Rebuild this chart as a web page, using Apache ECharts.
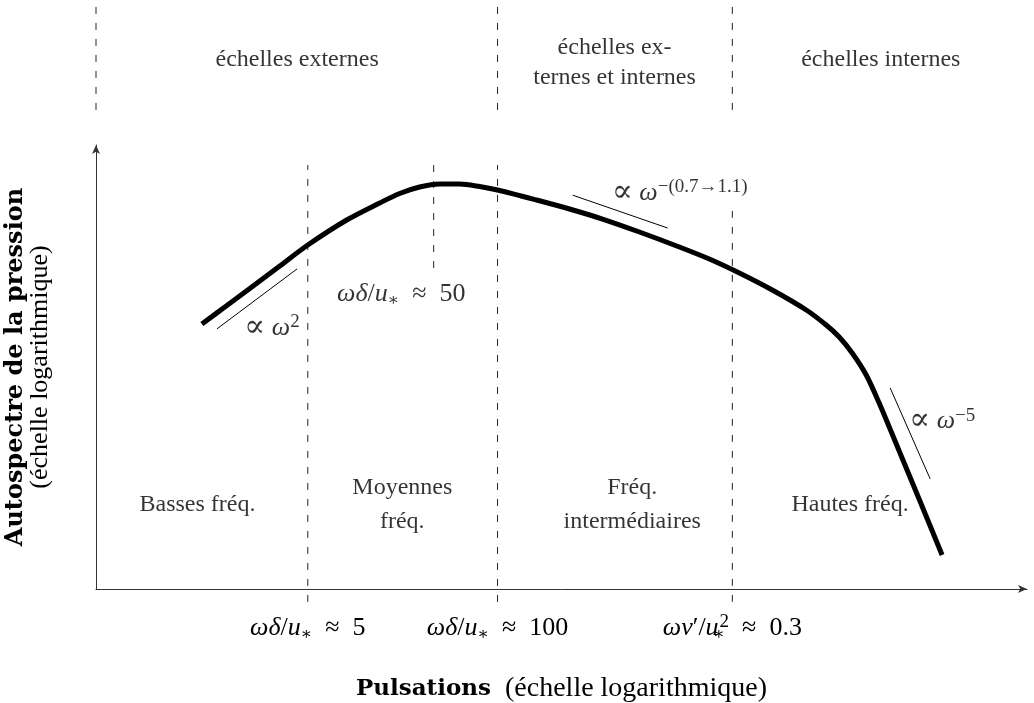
<!DOCTYPE html>
<html><head><meta charset="utf-8">
<script src="https://cdn.jsdelivr.net/npm/echarts@6/dist/echarts.min.js"></script>
<style>html,body{margin:0;padding:0;background:#fff}#c{width:1034px;height:703px}</style>
</head><body><div id="c"></div>
<script>
// Schematic pressure spectrum: x = log pulsation, y = log autospectrum (arbitrary units 0-100)
const curveX = [11.37, 13.84, 16.52, 19.74, 22.75, 26.93, 30.47, 32.62, 34.76, 36.91, 39.06, 41.20, 43.13, 47.32, 50.86, 54.40, 58.37, 62.66, 65.88, 69.10, 72.64, 76.29, 78.43, 79.83, 81.22, 82.73, 84.12, 86.27, 88.41, 90.88];
const curveY = [59.68, 63.51, 67.68, 72.75, 77.48, 83.11, 86.94, 89.08, 90.54, 91.22, 91.22, 90.65, 89.86, 87.61, 85.59, 83.33, 80.41, 77.03, 74.32, 71.17, 67.34, 62.84, 59.46, 56.76, 53.15, 48.20, 41.89, 31.08, 20.27, 7.66];

// slope guide lines  [x0, y0, x1, y1]
const slopeLow = [13.0, 58.6, 21.6, 72.1];      // ∝ ω²
const slopeMid = [51.2, 88.7, 61.4, 81.3];      // ∝ ω^-(0.7→1.1)
const slopeHigh = [85.3, 45.3, 89.6, 24.8];     // ∝ ω^-5

// frequency-range boundaries
const boundaryX = [22.75, 43.13, 68.35];
const boundaryTopY = [95.5, 95.5, 87.0];
const boundaryBottomY = -2.9;
const peakX = 36.27;
const peakDashY = [72.3, 95.5];
// scale-range dividers (above the plot)
const scaleDividerX = [0, 43.13, 68.35];
const scaleDividerY = [107.9, 132.7];

const tickLabels = [
  '{m|ωδ}{r|/}{m|u}{sub|∗}{r|  ≈  5}',
  '{m|ωδ}{r|/}{m|u}{sub|∗}{r|  ≈  100}',
  '{m|ων}{r|′/}{m|u}{subz|∗}{sup|2}{r|  ≈  0.3}'
];
const regionLabels = ['Basses fréq.', 'Moyennes\nfréq.', 'Fréq.\nintermédiaires', 'Hautes fréq.'];
const regionX = [10.9, 32.9, 57.6, 81.0];
const regionY = [18.9, 18.9, 18.9, 18.9];
const scaleLabels = ['échelles externes', 'échelles ex-\nternes et internes', 'échelles internes'];
const scaleLabelX = [21.6, 55.7, 84.3];
const scaleLabelY = [119.1, 118.6, 119.1];
const annotTexts = [
  '{m|ωδ}{r|/}{m|u}{sub|∗}{r|  ≈  50}',
  '{p|∝}{r| }{m|ω}{sup|2}',
  '{p|∝}{r| }{m|ω}{sup|−(0.7→1.1)}',
  '{p|∝}{r| }{m|ω}{sup|−5}'
];
const annotX = [32.8, 18.9, 62.7, 90.9];
const annotY = [66.4, 58.8, 89.2, 37.8];

const FONT = "'Liberation Serif', 'DejaVu Serif', serif";
const BOLD_FONT = "'DejaVu Serif', 'Liberation Serif', serif";
const mathRich = {
  m: {fontFamily: FONT, fontStyle: 'italic', fontSize: 26, lineHeight: 30, color: '#000'},
  r: {fontFamily: FONT, fontSize: 26, lineHeight: 30, color: '#000'},
  p: {fontFamily: "'DejaVu Serif', serif", fontSize: 31, lineHeight: 30, color: '#000'},
  sub: {fontFamily: FONT, fontSize: 17, lineHeight: 8, verticalAlign: 'bottom', color: '#000'},
  subz: {fontFamily: FONT, fontSize: 17, lineHeight: 8, width: 1, verticalAlign: 'bottom', color: '#000'},
  sup: {fontFamily: FONT, fontSize: 19, lineHeight: 22, verticalAlign: 'top', color: '#000'}
};

function seg(xs, y0, y1) {
  const out = [];
  xs.forEach((x, i) => {
    const a = Array.isArray(y0) ? y0[i] : y0;
    const b = Array.isArray(y1) ? y1[i] : y1;
    out.push([x, a], [x, b], '-');
  });
  return out;
}
const dashStyle = {color: '#222', width: 1, type: [7, 9]};
const thin = {color: '#000', width: 1};
function textSeries(xs, ys, texts, rich, fontSize, lh) {
  return {
    type: 'scatter', symbolSize: 0, clip: false, silent: true,
    data: xs.map((x, i) => [x, ys[i]]),
    label: {
      show: true, position: 'inside', color: '#000', fontFamily: FONT,
      fontSize: fontSize, lineHeight: lh, align: 'center',
      formatter: p => texts[p.dataIndex], rich: rich
    }
  };
}

const chart = echarts.init(document.getElementById('c'), null, {renderer: 'canvas'});
chart.setOption({
  animation: false,
  backgroundColor: '#fff',
  grid: {left: 96, right: 7, top: 145, bottom: 114, containLabel: false, outerBoundsMode: 'none'},
  xAxis: {
    type: 'value', min: 0, max: 100,
    axisLine: {onZero: false, symbol: ['none', 'arrow'], symbolSize: [6, 9], lineStyle: {color: '#333', width: 1}},
    axisTick: {show: false}, splitLine: {show: false},
    axisLabel: {
      show: true, customValues: boundaryX, margin: 24,
      formatter: v => tickLabels[boundaryX.indexOf(v)], rich: mathRich
    },
    name: '{b|Pulsations}{r|  (échelle logarithmique)}',
    nameLocation: 'middle', nameGap: 85,
    nameTextStyle: {
      rich: {
        b: {fontFamily: BOLD_FONT, fontWeight: 'bold', fontSize: 23, lineHeight: 30, color: '#000'},
        r: {fontFamily: FONT, fontSize: 28, lineHeight: 30, color: '#000'}
      }
    }
  },
  yAxis: {
    type: 'value', min: 0, max: 100,
    axisLine: {onZero: false, symbol: ['none', 'arrow'], symbolSize: [6, 9], lineStyle: {color: '#333', width: 1}},
    axisTick: {show: false}, splitLine: {show: false}, axisLabel: {show: false},
    name: '{b|Autospectre de la pression}\n{r|(échelle logarithmique)}',
    nameLocation: 'middle', nameGap: 44, nameRotate: 90,
    nameTextStyle: {
      align: 'center',
      rich: {
        b: {fontFamily: BOLD_FONT, fontWeight: 'bold', fontSize: 24, lineHeight: 24, color: '#000', align: 'center'},
        r: {fontFamily: FONT, fontSize: 26, lineHeight: 24, color: '#000', align: 'center'}
      }
    }
  },
  series: [
    {type: 'line', clip: false, symbol: 'none', silent: true, connectNulls: false,
     data: seg(boundaryX, boundaryBottomY, boundaryTopY).concat(seg([peakX], peakDashY[0], peakDashY[1]))
       .concat(seg(scaleDividerX, scaleDividerY[0], scaleDividerY[1])),
     lineStyle: dashStyle},
    {type: 'line', symbol: 'none', silent: true, connectNulls: false,
     data: [[slopeLow[0], slopeLow[1]], [slopeLow[2], slopeLow[3]], '-',
            [slopeMid[0], slopeMid[1]], [slopeMid[2], slopeMid[3]], '-',
            [slopeHigh[0], slopeHigh[1]], [slopeHigh[2], slopeHigh[3]]],
     lineStyle: thin},
    {type: 'line', symbol: 'none', silent: true, smooth: 0.3,
     data: curveX.map((x, i) => [x, curveY[i]]),
     lineStyle: {color: '#000', width: 5}},
    textSeries(regionX, regionY, regionLabels, null, 24, 34),
    textSeries(scaleLabelX, scaleLabelY, scaleLabels, null, 24, 30),
    textSeries(annotX, annotY, annotTexts, mathRich, 26, 30)
  ]
});
</script>
</body></html>
